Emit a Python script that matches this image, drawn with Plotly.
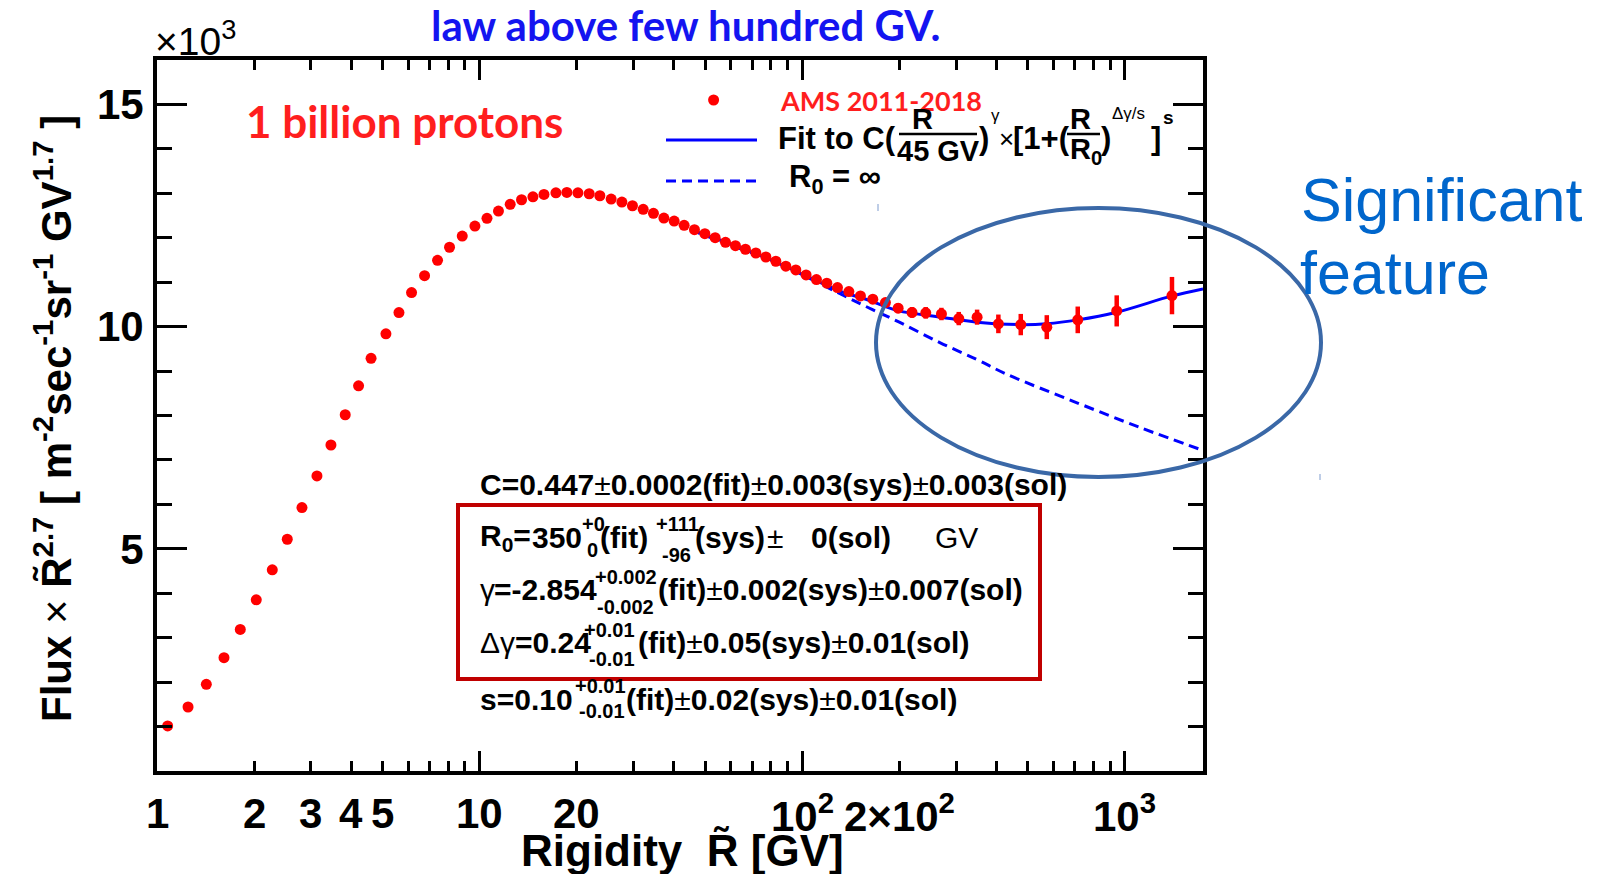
import math
import plotly.graph_objects as go

# ---------------- data ----------------
rigidity = [1.079, 1.248, 1.422, 1.613, 1.812, 2.031, 2.277, 2.534, 2.814, 3.132,
            3.461, 3.832, 4.215, 4.608, 5.124, 5.623, 6.152, 6.751, 7.406, 8.067,
            8.834, 9.671, 10.54, 11.44, 12.44, 13.49, 14.63, 15.83, 17.24, 18.64,
            20.17, 21.86, 23.59, 25.57, 27.61, 29.77, 32.14, 34.58, 37.25, 40.09,
            43.05, 46.34, 49.91, 53.72, 57.83, 62.09, 66.68, 71.82, 77.14, 82.84,
            88.96, 95.54, 102.8, 110.7, 119.2, 128.6, 139.5, 151.5, 165.5, 181.1,
            198.3, 219.0, 241.5, 270.1, 305.7, 348.4, 405.5, 475.8, 572.9, 714.6,
            943.7, 1400.0]
flux_r27 = [1013, 1440, 1950, 2550, 3186, 3853, 4528, 5215, 5928, 6640,
            7336, 8017, 8669, 9287, 9837, 10316, 10766, 11147, 11493, 11786,
            12039, 12264, 12437, 12601, 12752, 12855, 12922, 12976, 13012, 13021,
            13012, 12990, 12945, 12871, 12803, 12720, 12639, 12549, 12444, 12376,
            12280, 12181, 12091, 12001, 11898, 11822, 11741, 11657, 11567, 11471,
            11359, 11276, 11163, 11058, 10977, 10878, 10788, 10691, 10617, 10541,
            10415, 10320, 10310, 10284, 10181, 10213, 10062, 10046, 9988, 10152,
            10354, 10698]
flux_err = [0] * 52 + [40, 45, 50, 60, 70, 80, 90, 100, 110, 120,
                       130, 140, 150, 170, 210, 240, 270, 300, 350, 420, 540]

# fitted curve with the break
fit_r = [45, 55, 65, 80, 100, 131, 160, 198, 270, 348, 475, 573, 715, 944, 1400, 1747]
fit_val = [12180, 11960, 11760, 11500, 11180, 10800, 10600, 10361, 10213, 10100,
           10045, 10065, 10152, 10325, 10691, 10850]

# single power law (R0 = infinity)
pl_r = [45, 60, 80, 100, 131, 160, 200, 267, 348, 430, 692, 1114, 1747]
pl_val = [12180, 11830, 11500, 11170, 10740, 10430, 10100, 9640, 9260, 8930, 8320, 7730, 7215]

x_major = [1, 10, 100, 1000]
x_minor = [d * 10 ** k for k in range(3) for d in range(2, 10)]
x_labels = [(1, "1"), (2, "2"), (3, "3"), (4, "4"), (5, "5"), (10, "10"), (20, "20"),
            (100, "10<sup>2</sup>"), (200, "2×10<sup>2</sup>"), (1000, "10<sup>3</sup>")]
y_major = [5000, 10000, 15000]
y_major_text = ["5", "10", "15"]
y_minor = [v for v in range(1000, 16001, 1000) if v not in y_major]

R_MAX = 1747

# ---------------- geometry helpers (page pixels -> paper) ----------------
W, H = 1606, 874
L, RR, T, B = 157, 1203, 60, 771


def px(x):
    return (x - L) / (RR - L)


def py(y):
    return (B - y) / (B - T)


ROOT = "Liberation Sans"
PPT = "Lato"
annotations = []
shapes = []


def text(s, x, y, size, family=ROOT, color="black", bold=True,
         xanchor="left", yanchor="middle", angle=0):
    annotations.append(dict(
        text=s, x=px(x), y=py(y), xref="paper", yref="paper", showarrow=False,
        xanchor=xanchor, yanchor=yanchor, textangle=angle,
        font=dict(family=family, size=size, color=color,
                  weight="bold" if bold else "normal")))


def hline(x0, x1, y, color, width, dash="solid"):
    shapes.append(dict(type="line", xref="paper", yref="paper",
                       x0=px(x0), x1=px(x1), y0=py(y), y1=py(y),
                       line=dict(color=color, width=width, dash=dash)))


PM = '<span style="font-weight:normal">±</span>'

# ---------------- traces ----------------
fig = go.Figure()
fig.add_trace(go.Scatter(x=fit_r, y=fit_val, mode="lines",
                         line=dict(color="#0000FF", width=3, shape="spline"),
                         hoverinfo="skip"))
fig.add_trace(go.Scatter(x=pl_r, y=pl_val, mode="lines",
                         line=dict(color="#0000FF", width=3, dash="10px,6px", shape="spline"),
                         hoverinfo="skip"))
fig.add_trace(go.Scatter(x=rigidity, y=flux_r27, mode="markers",
                         marker=dict(color="#FF0000", size=11),
                         error_y=dict(type="data", array=flux_err, color="#FF0000",
                                      thickness=4.5, width=0)))

# ---------------- x tick labels ----------------
for v, lab in x_labels:
    annotations.append(dict(text=lab, x=math.log10(v), y=py(813), xref="x", yref="paper",
                            showarrow=False, xanchor="center", yanchor="middle",
                            font=dict(family=ROOT, size=42, color="black", weight="bold")))

# axis titles
text("Rigidity  R\u0303 [GV]", 682, 850, 44, xanchor="center")
text("Flux <span style=\"font-weight:normal\">×</span> R\u0303<sup>2.7</sup> "
     "[ m<sup>-2</sup>sec<sup>-1</sup>sr<sup>-1</sup> GV<sup>1.7</sup> ]",
     53, 419, 42, xanchor="center", angle=-90)
text("×10<sup>3</sup>", 153, 39, 39, bold=False)

# headline and labels
text("law above few hundred GV.", 686, 25, 42, family=PPT, color="#1414F0", xanchor="center")
text("1 billion protons", 244, 121, 44, family=PPT, color="#FF1E1E")

# legend
shapes.append(dict(type="circle", xref="paper", yref="paper",
                   x0=px(708.1), x1=px(719.1), y0=py(105.5), y1=py(94.5),
                   fillcolor="#FF0000", line=dict(width=0)))
text("AMS 2011-2018", 778, 100, 27, family=PPT, color="#FF1E1E")
hline(666, 757, 140, "#0000FF", 3)
hline(666, 757, 181, "#0000FF", 3, dash="10px,6px")
text("Fit to C(", 776, 138, 31)
text("R", 922, 119, 29, xanchor="center")
hline(899, 977, 134, "black", 2.5)
text("45 GV", 938, 151, 29, xanchor="center")
text(")", 977, 138, 31)
text("γ", 989, 116, 17, bold=False)
text("×", 997, 139, 26, bold=False)
text("[1+(", 1011, 138, 31)
text("R", 1080, 119, 29, xanchor="center")
hline(1067, 1100, 134, "black", 2.5)
text("R<sub>0</sub>", 1086, 151, 29, xanchor="center")
text(")", 1099, 138, 31)
text("Δγ/s", 1110, 114, 17, bold=False)
text("]", 1149, 138, 31)
text("s", 1161, 117, 19)
text("R<sub>0</sub> = ∞", 787, 179, 31)

# fit parameters
text("C=0.447" + PM + "0.0002(fit)" + PM + "0.003(sys)" + PM + "0.003(sol)", 478, 485, 30)

y0 = 537
text("R<sub>0</sub>=", 478, y0, 30)
text("350", 530, y0, 30)
text("+0", 580, y0 - 13, 20)
text("0", 585, y0 + 13, 20)
text("(fit)", 598, y0, 30)
text("+111", 654, y0 - 13, 20)
text("-96", 660, y0 + 18, 20)
text("(sys)", 693, y0, 30)
text("±", 765, y0, 30, bold=False)
text("0(sol)", 809, y0, 30)
text("GV", 933, y0, 30, bold=False)

y1 = 589
text("γ", 478, y1, 30, bold=False)
text("=-2.854", 492, y1, 30)
text("+0.002", 593, y1 - 12, 20)
text("-0.002", 595, y1 + 18, 20)
text("(fit)" + PM + "0.002(sys)" + PM + "0.007(sol)", 656, y1, 30)

y2 = 642
text("Δγ", 478, y2, 30, bold=False)
text("=0.24", 513, y2, 30)
text("+0.01", 582, y2 - 12, 20)
text("-0.01", 587, y2 + 17, 20)
text("(fit)" + PM + "0.05(sys)" + PM + "0.01(sol)", 636, y2, 30)

y3 = 699
text("s=0.10", 478, y3, 30)
text("+0.01", 573, y3 - 13, 20)
text("-0.01", 577, y3 + 12, 20)
text("(fit)" + PM + "0.02(sys)" + PM + "0.01(sol)", 624, y3, 30)

shapes.append(dict(type="rect", xref="paper", yref="paper",
                   x0=px(458), x1=px(1040), y0=py(679), y1=py(505),
                   line=dict(color="#C00000", width=4)))

# highlight of the high-rigidity region
shapes.append(dict(type="circle", xref="paper", yref="paper",
                   x0=px(876), x1=px(1321), y0=py(477), y1=py(208),
                   line=dict(color="#3A68A7", width=4)))
text("Significant", 1299, 200, 61, color="#0066CC", bold=False)
text("feature", 1298, 273, 61, color="#0066CC", bold=False)

# two small stray marks
shapes.append(dict(type="line", xref="paper", yref="paper", x0=px(878), x1=px(878),
                   y0=py(211), y1=py(204), line=dict(color="#7F9CCF", width=1)))
shapes.append(dict(type="line", xref="paper", yref="paper", x0=px(1320), x1=px(1320),
                   y0=py(480), y1=py(474), line=dict(color="#7F9CCF", width=1)))

fig.update_layout(
    width=W, height=H,
    margin=dict(l=L, r=W - RR, t=T, b=H - B, pad=0),
    paper_bgcolor="white", plot_bgcolor="white",
    showlegend=False,
    annotations=annotations, shapes=shapes,
    xaxis=dict(type="log", range=[0, math.log10(R_MAX)],
               showline=True, linecolor="black", linewidth=4, mirror="ticks",
               ticks="inside", tickvals=x_major, ticklen=20, tickwidth=3, tickcolor="black",
               showticklabels=False, showgrid=False, zeroline=False,
               minor=dict(tickvals=x_minor, ticks="inside", ticklen=10, tickwidth=3,
                          tickcolor="black", showgrid=False)),
    yaxis=dict(range=[0, 16000],
               showline=True, linecolor="black", linewidth=4, mirror="ticks",
               ticks="inside", tickvals=y_major, ticktext=y_major_text,
               ticklen=30, tickwidth=3, tickcolor="black",
               tickfont=dict(family=ROOT, size=42, color="black", weight="bold"),
               ticklabelstandoff=1,
               showgrid=False, zeroline=False,
               minor=dict(tickvals=y_minor, ticks="inside", ticklen=15, tickwidth=3,
                          tickcolor="black", showgrid=False)),
)

fig.write_html("out.html")
